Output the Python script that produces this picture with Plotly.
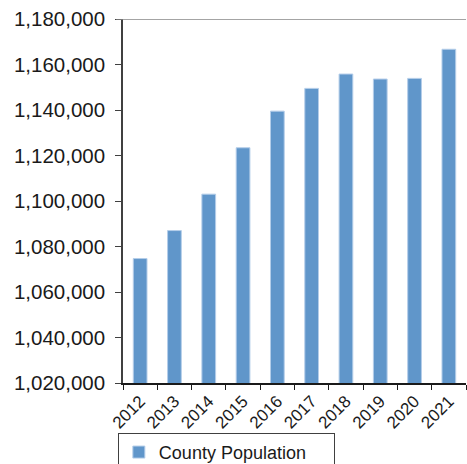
import plotly.graph_objects as go

years = ["2012", "2013", "2014", "2015", "2016", "2017", "2018", "2019", "2020", "2021"]
population = [1074700, 1087000, 1103000, 1123400, 1139500, 1149500, 1155800, 1153600, 1153900, 1166700]
series_name = "County Population"
y_ticks = [1020000, 1040000, 1060000, 1080000, 1100000, 1120000, 1140000, 1160000, 1180000]
y_tick_labels = ["{:,}".format(v) for v in y_ticks]

fig = go.Figure()
fig.add_trace(go.Bar(
    x=years, y=population, name=series_name,
    marker=dict(color="#6096CA", line=dict(color="#B4CDE9", width=1)),
    showlegend=True,
))

fig.add_shape(type="line", xref="paper", yref="y", x0=-0.02, x1=1, y0=y_ticks[-1], y1=y_ticks[-1],
              line=dict(color="#868686", width=1.6), layer="above")

fig.update_layout(
    width=467, height=464,
    margin=dict(l=123, r=1, t=19, b=81, autoexpand=False),
    plot_bgcolor="white", paper_bgcolor="white",
    font=dict(family="Liberation Sans, Arial, sans-serif", color="#1a1a1a"),
    bargap=0.6,
    showlegend=True,
    legend=dict(
        orientation="h", x=-0.015, xanchor="left", y=-0.137, yanchor="top",
        bordercolor="#404040", borderwidth=1, font=dict(size=18),
        entrywidth=170,
    ),
    xaxis=dict(
        type="category", showgrid=False, showline=True, linecolor="#1a1a1a", linewidth=1.5,
        ticks="outside", ticklen=5, tickcolor="#1a1a1a", tickson="boundaries",
        tickangle=-45, tickfont=dict(size=17), automargin=False,
    ),
    yaxis=dict(
        range=[y_ticks[0], y_ticks[-1]], tickvals=y_ticks, ticktext=y_tick_labels,
        showgrid=False, showline=True, linecolor="#404040", linewidth=1.5,
        ticks="outside", ticklen=6, tickcolor="#404040", tickfont=dict(size=20.5),
        ticklabelstandoff=6, zeroline=False, automargin=False,
    ),
)

fig.write_html("out.html")
